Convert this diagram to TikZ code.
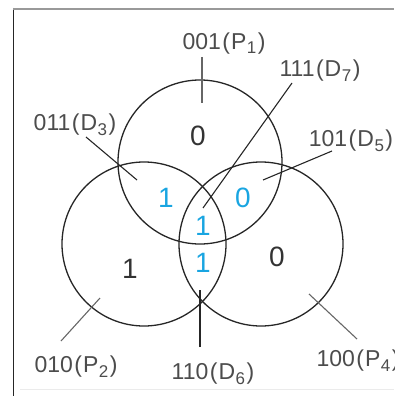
\documentclass[tikz,border=0pt]{standalone}
\usepackage{fontspec}
\setmainfont{Liberation Sans}
\definecolor{bitblue}{RGB}{25,165,225}
\newcommand{\lsub}[1]{\raisebox{-5pt}{\fontsize{17}{17}\selectfont #1}}
\newcommand{\code}[3]{#1\kern1.5pt(\kern1pt #2\kern0.5pt\lsub{#3}\kern1.5pt)}
\begin{document}
\begin{tikzpicture}[x=1pt,y=-1pt,
    lab/.style={font=\fontsize{23}{23}\selectfont, text=black!70, inner sep=0pt, anchor=base},
    num/.style={font=\fontsize{28}{28}\selectfont, text=black!80, inner sep=0pt, anchor=base},
    bit/.style={num, text=bitblue},
    ring/.style={circle, draw=black!85, line width=1.3pt, minimum size=164pt, inner sep=0pt},
    lead/.style={draw=black!85, line width=1.1pt},
    plead/.style={lead, draw=black!60}]
  \useasboundingbox (0,0) rectangle (394,396);
  \draw[black!85, line width=1.5pt] (13.5,8) -- (13.5,396);
  \draw[black!40, line width=1.5pt] (13,9) -- (394,9);
  \draw[black!8, line width=1pt] (20,389) -- (394,389);
  \node[ring] (top) at (200,162) {};
  \node[ring] (left) at (144,244) {};
  \node[ring] (right) at (261,244) {};
  \node[num] (n1) at (198,145) {0};
  \node[bit] (n3) at (166,207) {1};
  \node[bit] (n5) at (243,207) {0};
  \node[bit] (n7) at (203,235) {1};
  \node[bit] (n6) at (203,272) {1};
  \node[num] (n2) at (130,278) {1};
  \node[num] (n4) at (277,266) {0};
  \node[lab] (p1) at (224,49) {\code{001}{P}{1}};
  \node[lab] (d7) at (320,77) {\code{111}{D}{7}};
  \node[lab] (d3) at (75,130) {\code{011}{D}{3}};
  \node[lab] (d5) at (351,146) {\code{101}{D}{5}};
  \node[lab] (p2) at (76,372) {\code{010}{P}{2}};
  \node[lab] (d6) at (213,379) {\code{110}{D}{6}};
  \node[lab] (p4) at (358,366) {\code{100}{P}{4}};
  \coordinate (p1a) at (202,57);  \coordinate (p1b) at (202,103);
  \coordinate (d7a) at (292,83);  \coordinate (d7b) at (203,208);
  \coordinate (d3a) at (86,137);  \coordinate (d3b) at (137,180);
  \coordinate (d5a) at (332,151); \coordinate (d5b) at (263,180);
  \coordinate (p2a) at (61,341);  \coordinate (p2b) at (100,298);
  \coordinate (d6a) at (200,347); \coordinate (d6b) at (200,290);
  \coordinate (p4a) at (357,339); \coordinate (p4b) at (309,294);
  \draw[plead] (p1a) -- (p1b);
  \draw[lead] (d7a) -- (d7b);
  \draw[lead] (d3a) -- (d3b);
  \draw[lead] (d5a) -- (d5b);
  \draw[plead] (p2a) -- (p2b);
  \draw[lead] (d6a) -- (d6b);
  \draw[plead] (p4a) -- (p4b);
\end{tikzpicture}
\end{document}
